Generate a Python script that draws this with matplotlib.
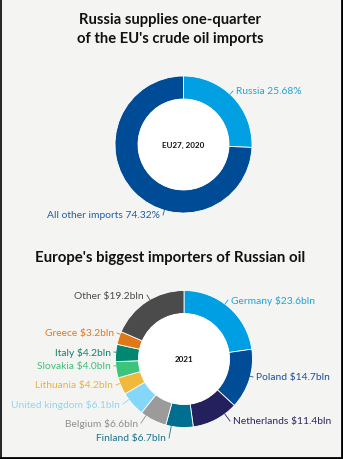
import numpy as np
import matplotlib
matplotlib.use("Agg")
import matplotlib.pyplot as plt
from matplotlib.patches import Circle

# chart data
share_names = ["Russia", "All other imports"]
share_values = [25.68, 74.32]
share_colors = ["#00a0e3", "#004b96"]
share_text = ["#1ea2e0", "#1f5ea4"]

importers = ["Germany", "Poland", "Netherlands", "Finland", "Belgium",
             "United kingdom", "Lithuania", "Slovakia", "Italy", "Greece", "Other"]
import_values = [23.6, 14.7, 11.4, 6.7, 6.6, 6.1, 4.2, 4.0, 4.2, 3.2, 19.2]
import_colors = ["#009fe3", "#004c97", "#24205e", "#006f8f", "#9b9b9b",
                 "#84d7f8", "#f0b93c", "#3cc47c", "#00876f", "#e07818", "#4b4b4b"]
import_text = ["#1ea2e0", "#1f4f94", "#2b2860", "#1a7392", "#8f8f8f",
               "#8fd6f2", "#e8b43c", "#3cbf78", "#0f8270", "#dc7a20", "#4b4b4b"]

# layout (pixels, top-left origin)
W, H = 343, 460
R_OUT, RING = 68.5, 23
C1 = (183.5, 145.5)
C2 = (184, 360)
# label anchors: (x, y, ha)
share_pos = [(236, 92, "left"), (160, 216, "right")]
import_pos = [(231, 301, "left"), (256, 378, "left"), (233, 422, "left"),
              (166, 439, "right"), (138, 424, "right"), (120, 405, "right"),
              (113, 386, "right"), (111, 367, "right"), (111, 353, "right"),
              (114, 334, "right"), (144, 296, "right")]

BG = "#f4f4f2"
FONT = "Lato"

def Y(y):
    return H - y

fig = plt.figure(figsize=(W / 100, H / 100), dpi=100, facecolor=BG)
ax = fig.add_axes([0, 0, 1, 1])
ax.set_facecolor(BG)

def donut(values, colors, center, names, suffix, pos, tcolors, middle):
    cx, cy = center[0], Y(center[1])
    ax.pie(values, radius=R_OUT, center=(cx, cy), startangle=90, counterclock=False,
           colors=colors, wedgeprops=dict(width=RING, edgecolor="white", linewidth=0.6))
    ax.add_patch(Circle((cx, cy), R_OUT - RING, facecolor="white", edgecolor="none"))
    ax.text(cx, cy, middle, ha="center", va="center", fontsize=5.8,
            fontweight="bold", color="#111111", family=FONT)
    for name, v, (tx, ty, ha), col in zip(names, values, pos, tcolors):
        ty = Y(ty)
        lx = tx + (-3 if ha == "left" else 3)
        ly = ty
        dx, dy = lx - cx, ly - cy
        d = np.hypot(dx, dy)
        ex, ey = cx + dx / d * R_OUT, cy + dy / d * R_OUT
        ax.plot([ex, lx], [ey, ly], color=col, lw=0.6)
        ax.text(tx, ty, suffix(name, v), ha=ha, va="center", fontsize=7.4,
                color=col, family=FONT)

donut(share_values, share_colors, C1, share_names,
      lambda n, v: f"{n} {v:.2f}%", share_pos, share_text, "EU27, 2020")
donut(import_values, import_colors, C2, importers,
      lambda n, v: f"{n} ${v:.1f}bln", import_pos, import_text, "2021")

ax.text(170, Y(29.5), "Russia supplies one-quarter\nof the EU's crude oil imports",
        ha="center", va="center", fontsize=10.6, fontweight="bold",
        color="#111111", family=FONT, linespacing=1.5)
ax.text(170, Y(258), "Europe's biggest importers of Russian oil",
        ha="center", va="center", fontsize=10.8, fontweight="bold",
        color="#111111", family=FONT)

# frame edges
ax.plot([0.5, 0.5], [0, H], color="black", lw=1.2, clip_on=False)
ax.plot([W - 1, W - 1], [0, H], color="black", lw=2, clip_on=False)
ax.plot([0, W], [1, 1], color="black", lw=2, clip_on=False)

ax.set_xlim(0, W)
ax.set_ylim(0, H)
ax.set_aspect("auto")
ax.axis("off")

fig.savefig("out.png", dpi=100, facecolor=BG)
